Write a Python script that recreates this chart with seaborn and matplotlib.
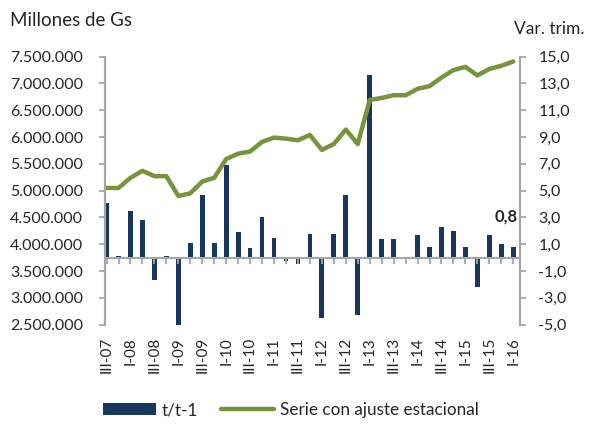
import numpy as np
import pandas as pd
import matplotlib
matplotlib.use('Agg')
import matplotlib.pyplot as plt
from matplotlib.ticker import FuncFormatter
import seaborn as sns

# data
trimestres = ['III-07', 'IV-07',
              'I-08', 'II-08', 'III-08', 'IV-08',
              'I-09', 'II-09', 'III-09', 'IV-09',
              'I-10', 'II-10', 'III-10', 'IV-10',
              'I-11', 'II-11', 'III-11', 'IV-11',
              'I-12', 'II-12', 'III-12', 'IV-12',
              'I-13', 'II-13', 'III-13', 'IV-13',
              'I-14', 'II-14', 'III-14', 'IV-14',
              'I-15', 'II-15', 'III-15', 'IV-15',
              'I-16']
var_trim = [4.1, 0.1, 3.5, 2.8, -1.7, 0.1, -5.3, 1.1, 4.7, 1.1,
            6.9, 1.9, 0.7, 3.0, 1.5, -0.25, -0.5, 1.8, -4.5, 1.8,
            4.7, -4.3, 13.6, 1.4, 1.4, 0.05, 1.7, 0.8, 2.3, 2.0,
            0.8, -2.2, 1.7, 1.0, 0.8]
serie_ajustada = [5050000, 5050000, 5240000, 5370000, 5270000, 5270000,
                  4900000, 4950000, 5170000, 5240000, 5590000, 5690000,
                  5730000, 5910000, 5990000, 5970000, 5940000, 6040000,
                  5760000, 5870000, 6140000, 5870000, 6690000, 6730000,
                  6780000, 6780000, 6900000, 6950000, 7110000, 7250000,
                  7310000, 7150000, 7270000, 7330000, 7410000]

df = pd.DataFrame({'trimestre': trimestres, 'var': var_trim, 'serie': serie_ajustada})
df['pos'] = np.arange(len(df))

azul = '#17375E'
verde = '#77933C'
gris = '#A6A6A6'

sns.set_style('white')
plt.rcParams['font.family'] = ['Lato', 'DejaVu Sans']

fig, ax = plt.subplots(figsize=(6.07, 4.26), dpi=100)
fig.subplots_adjust(left=0.173, right=0.857, top=0.867, bottom=0.238)
ax2 = ax.twinx()

# bars on the right axis (t/t-1)
sns.barplot(data=df, x='pos', y='var', ax=ax2, color=azul, width=0.4,
            native_scale=True, saturation=1, label='t/t-1',
            edgecolor='none', linewidth=0)
# line on the left axis
sns.lineplot(data=df, x='pos', y='serie', ax=ax, color=verde, linewidth=3.2,
             label='Serie con ajuste estacional')

ax.set_zorder(ax2.get_zorder() + 1)
ax.patch.set_visible(False)

ax.set_ylim(2500000, 7500000)
ax.set_yticks(np.arange(2500000, 7500001, 500000))
ax.yaxis.set_major_formatter(FuncFormatter(lambda v, p: f'{v:,.0f}'.replace(',', '.')))
ax2.set_ylim(-5, 15)
ax2.set_yticks(np.arange(-5, 15.1, 2))
ax2.yaxis.set_major_formatter(FuncFormatter(lambda v, p: f'{v:.1f}'.replace('.', ',')))
ax.set_xlim(-0.13, len(df) - 1 + 0.58)

ax.set_xticks(df['pos'][::2], df['trimestre'][::2], rotation=90)
ax.tick_params(axis='x', length=0, pad=9, labelsize=11)
ax.tick_params(axis='y', length=4, width=1.3, color=gris, direction='out', pad=12, labelsize=11.5, left=True)
ax2.tick_params(axis='y', length=4, width=1.3, color=gris, direction='out', pad=9, labelsize=11.5, right=True)
ax.set_xlabel('')
ax.set_ylabel('')
ax2.set_ylabel('')

for a in (ax, ax2):
    a.spines['top'].set_visible(False)
    a.spines['bottom'].set_visible(False)
    for s in ('left', 'right'):
        a.spines[s].set_color(gris)
        a.spines[s].set_linewidth(1.5)

# category axis crossing at zero on the right scale
cero = (0 - ax2.get_ylim()[0]) / (ax2.get_ylim()[1] - ax2.get_ylim()[0])
sec = ax2.secondary_xaxis(cero)
sec.set_zorder(5)
sec.set_xticks(df['pos'])
sec.tick_params(axis='x', length=4, width=1.3, color=gris, labelbottom=False)
sec.spines['bottom'].set_color(gris)
sec.spines['bottom'].set_linewidth(1.5)

# last value label
ultimo = df['var'].iloc[-1]
ax2.annotate(f'{ultimo:.1f}'.replace('.', ','), xy=(df['pos'].iloc[-1], ultimo),
             xytext=(3, 22), textcoords='offset points', ha='right', va='center',
             fontsize=12, fontweight='bold')

fig.text(10 / 607, 1 - 20 / 426, 'Millones de Gs', fontsize=13.5, va='center', ha='left')
fig.text(514 / 607, 1 - 29 / 426, 'Var. trim.', fontsize=12.5, va='center', ha='left')

h1, l1 = ax2.get_legend_handles_labels()
h2, l2 = ax.get_legend_handles_labels()
if ax.get_legend():
    ax.get_legend().remove()
if ax2.get_legend():
    ax2.get_legend().remove()
fig.legend(h1 + h2, l1 + l2, loc='center', bbox_to_anchor=(0.479, 16 / 426), ncol=2,
           frameon=False, fontsize=12.3, handlelength=3.1, handleheight=0.7,
           columnspacing=1.3, handletextpad=0.35)

fig.savefig('out.png', dpi=100)
